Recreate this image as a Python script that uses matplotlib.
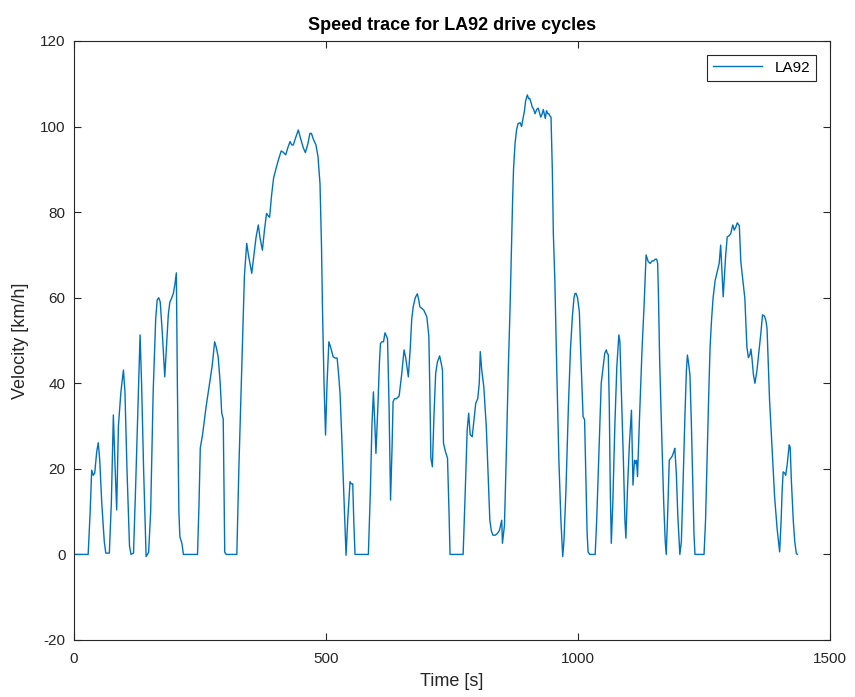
import matplotlib
matplotlib.use("Agg")
import matplotlib.pyplot as plt

# LA92 speed trace, sampled at the turning points of the cycle
time_s = [
    0, 28, 32, 35, 38, 41, 45, 48, 51, 55, 60, 63, 70, 74, 78, 81, 84.6, 88, 93, 98,
    101, 105, 110, 113, 118, 122, 127, 131, 134, 138, 143, 148, 152, 157, 162, 165, 168, 171, 175, 180,
    184, 187, 190, 194, 197, 200, 203, 205, 208, 210, 214, 217, 245, 248, 250.5, 255, 262, 269, 274, 279,
    282, 286, 290, 293, 296, 299, 302, 323, 327, 333, 338, 342.6, 346, 352.6, 357, 361, 365.6, 369, 373.7, 378,
    382, 386, 388, 392, 396, 400.8, 405, 411, 415, 420, 424, 428.6, 432, 435, 440, 445, 450, 455, 459, 464,
    468, 471, 475, 480, 484, 488, 491, 493, 496, 499, 502, 505.6, 509, 514, 518, 522, 525, 527.8, 531, 534,
    537, 539.7, 543, 547.6, 550, 553, 555, 557.5, 584, 588, 591, 594, 597, 599, 603, 606, 608, 611, 614, 617,
    622, 625, 628, 631, 633, 636, 639.5, 645, 650, 654.8, 658, 663.3, 667, 670, 673, 677, 681, 684, 686, 690,
    694, 700, 704, 706, 708, 711, 714, 717.5, 721, 725.4, 728, 731, 733, 737, 741, 744, 746, 772, 776, 780,
    783, 786, 790, 794, 797, 801, 804, 806, 809, 813, 818, 822, 825, 828, 831, 836, 840, 844, 848.6, 850,
    854, 858, 862, 865, 870, 872, 875, 878, 881, 885, 888, 891, 893.5, 896, 899.4, 902, 904, 907, 909, 912,
    914.7, 918, 921, 924, 926, 929, 931, 935, 937.5, 940, 942, 944, 946.4, 949, 951, 954, 958, 962, 966, 969.6,
    972, 976, 981, 985, 989, 992, 994, 996, 999, 1002.6, 1006, 1010, 1013, 1016, 1018, 1020, 1023, 1034, 1037, 1041,
    1046, 1050, 1053, 1056, 1058, 1060, 1062, 1064, 1066, 1069, 1073, 1077, 1081, 1083, 1086, 1090, 1093, 1095, 1098, 1102,
    1106, 1109, 1112, 1114, 1116, 1118, 1122, 1127, 1131, 1135, 1139, 1143, 1147, 1150, 1153, 1156, 1158, 1159.5, 1162, 1166,
    1170, 1173, 1175, 1178, 1181, 1184, 1187, 1190, 1192, 1195, 1198, 1202, 1205, 1208, 1212, 1215, 1217, 1219, 1222, 1225,
    1228, 1230, 1232, 1250, 1253, 1256, 1259, 1262, 1265, 1268, 1272, 1276, 1280, 1283, 1286, 1288, 1291, 1293, 1296, 1300,
    1303, 1307, 1310, 1313, 1316, 1320, 1323, 1327, 1331, 1335, 1338, 1341, 1343, 1345, 1348, 1351, 1355, 1360, 1363, 1366,
    1370, 1373, 1375, 1377, 1380, 1385, 1390, 1395, 1400, 1403, 1405, 1407, 1410, 1412, 1415, 1419, 1421, 1423, 1427, 1430,
    1433, 1435,
]
speed_kmh = [
    0, 0, 10, 19.7, 18.5, 19, 24, 26.1, 22, 12, 3, 0.3, 0.3, 12, 32.6, 22, 10.4, 30, 38, 43.1,
    38, 20, 2, 0, 0.3, 15, 35, 51.3, 40, 20, -0.5, 0.5, 10, 38, 55, 59.5, 60, 59, 52, 41.5,
    50, 56, 58.9, 60, 61, 63, 65.8, 40, 10, 4.1, 2.6, 0, 0, 12, 24.9, 28, 34.5, 40, 44, 49.7,
    48.5, 46.2, 40, 33, 31.7, 0.5, 0, 0, 20, 45, 65, 72.7, 70, 65.7, 70, 74, 77, 74, 71.1, 76,
    79.7, 79, 78.8, 84, 88, 90.2, 92, 94.3, 94, 93.4, 95, 96.5, 95.7, 95.7, 97.5, 99.2, 97, 95, 93.9, 96,
    98.4, 98.4, 97, 95.7, 93, 86.7, 72, 57, 40, 27.9, 40, 49.7, 48.5, 46.2, 45.9, 45.9, 42, 37.6, 28, 18.2,
    8, -0.2, 8, 17, 16.5, 16.5, 8, 0, 0, 15, 30, 38, 30, 23.6, 35, 45, 49.3, 49.7, 49.7, 51.8,
    50.4, 35, 12.7, 25, 35.7, 36.4, 36.4, 37, 42, 47.8, 46, 41.5, 48, 55, 57.9, 60, 60.9, 59.5, 57.9, 57.5,
    57.1, 55.5, 51, 38, 22.5, 20.5, 32, 42.3, 45, 46.4, 45, 43.1, 26, 24, 22.5, 10, 0, 0, 14, 29,
    33, 28, 27.5, 32, 35.3, 36.4, 40, 47.4, 43, 39.2, 29.8, 17, 8, 5.5, 4.5, 4.5, 4.9, 5.6, 8, 2.6,
    6.8, 25, 45, 57, 82, 90, 96, 99.2, 100.7, 100.9, 100, 102, 103.5, 106, 107.4, 106.5, 106.6, 105.5, 104.6, 104,
    103, 104, 104.3, 103, 102.2, 103, 104, 101.9, 103.7, 103, 103, 102.5, 102.2, 89.8, 75, 64, 42, 22, 8, -0.5,
    3, 15, 35, 48, 56, 60, 61, 61, 60, 56.7, 45, 32.2, 31.5, 15, 5, 0.6, 0, 0, 8, 22,
    40, 44, 47, 47.8, 47, 46.7, 35, 15, 2.6, 12, 30, 44, 51.3, 49.8, 38, 22, 8, 3.8, 15, 26,
    33.7, 16.2, 22, 21.2, 22, 18.2, 32, 48, 58, 70, 68.5, 68, 68.6, 68.6, 69, 69, 68, 61, 45, 28,
    12, 3, 0, 10, 22, 22.5, 23, 24, 24.8, 19, 9, 0, 3, 15, 32, 43, 46.6, 45, 42, 30,
    15, 5, 0, 0, 8, 22, 36, 48.5, 55, 60, 64, 66, 68, 72.3, 65, 60.2, 66, 70, 74.2, 74.5,
    75, 77, 75.8, 76.5, 77.5, 76.8, 68.4, 64, 59.8, 48.5, 46, 46.7, 48, 46, 42, 40, 43, 48.5, 52, 56,
    55.7, 54.5, 52.8, 46, 36.1, 25, 13.5, 6, 0.6, 8, 15, 19.3, 19, 18.5, 21, 25.6, 25, 18, 8, 3,
    0.3, 0,
]

x_ticks = [0, 500, 1000, 1500]
y_ticks = [-20, 0, 20, 40, 60, 80, 100, 120]

plt.rcParams['font.family'] = ['Liberation Sans', 'DejaVu Sans']
plt.rcParams['axes.unicode_minus'] = False

fig = plt.figure(figsize=(8.55, 6.97), dpi=100)
ax = fig.add_axes([0.0866, 0.0818, 0.8842, 0.8594])

ax.plot(time_s, speed_kmh, color='#0072BD', linewidth=1.0, label='LA92')

ax.set_xlim(0, 1500)
ax.set_ylim(-20, 120)
ax.set_xticks(x_ticks)
ax.set_yticks(y_ticks)

# matlab-like box with inward ticks on every side
for side in ax.spines.values():
    side.set_color('#262626')
    side.set_linewidth(0.8)
ax.tick_params(direction='in', top=True, right=True, length=5,
               width=0.8, color='#262626', labelsize=11, labelcolor='#262626')
ax.tick_params(axis='x', pad=9)
ax.tick_params(axis='y', pad=6)

ax.set_title('Speed trace for LA92 drive cycles', fontsize=13,
             fontweight='bold', color='black', pad=8)
ax.set_xlabel('Time [s]', fontsize=13, color='#262626', labelpad=5)
ax.set_ylabel('Velocity [km/h]', fontsize=13, color='#262626', labelpad=8)

leg = ax.legend(loc='upper right', fancybox=False, edgecolor='#262626',
                fontsize=11, handlelength=3.2, borderaxespad=0.9,
                framealpha=1)
leg.get_frame().set_linewidth(0.8)

plt.savefig('out.png', dpi=100)
plt.close()
